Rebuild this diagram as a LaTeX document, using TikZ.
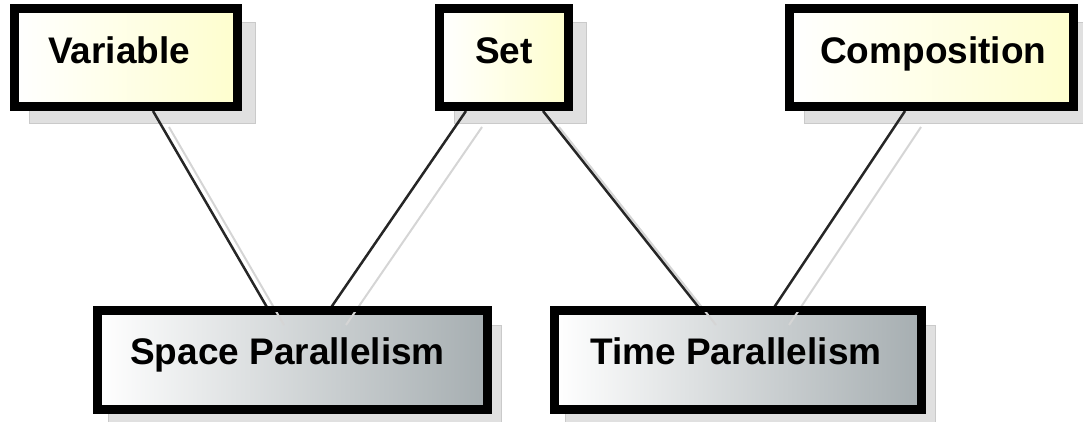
\documentclass[tikz,border=0pt]{standalone}
\usepackage{fontspec}
\setmainfont{Liberation Sans}
\definecolor{boxyellow}{HTML}{FEFECE}
\definecolor{boxgrey}{RGB}{166,174,177}
\definecolor{shadowgrey}{RGB}{224,224,224}
\tikzset{
  shadowbox/.style={fill=shadowgrey, draw=shadowgrey!90!black, line width=1pt},
  topbox/.style={draw=black, line width=6pt, rectangle, minimum height=95pt, inner sep=0pt,
     left color=white, right color=boxyellow},
  botbox/.style={draw=black, line width=6pt, rectangle, minimum height=96pt, inner sep=0pt,
     left color=white, right color=boxgrey},
  lbl/.style={anchor=base west, inner sep=0pt, font=\bfseries\fontsize{37}{40}\selectfont},
  conn/.style={draw=black!85, line width=2.5pt},
  connshadow/.style={draw=shadowgrey!95!black, line width=2pt},
  border/.style={line width=6pt},
}
\begin{document}
\begin{tikzpicture}[x=1pt,y=-1pt]
\useasboundingbox (0,0) rectangle (1083,422);
% coordinates for box placement (shadows drawn first)
\coordinate (cvar) at (126,57.5);
\coordinate (cset) at (504,57.5);
\coordinate (ccomp) at (931.5,57.5);
\coordinate (csp) at (292.5,360);
\coordinate (ctp) at (738,360);
% box shadows
\fill[shadowbox] ([shift={(16,16)}]cvar) +(-113,-50.5) rectangle +(113,50.5);
\fill[shadowbox] ([shift={(16,16)}]cset) +(-66,-50.5) rectangle +(66,50.5);
\fill[shadowbox] ([shift={(16,16)}]ccomp) +(-143.5,-50.5) rectangle +(143.5,50.5);
\fill[shadowbox] ([shift={(12,16)}]csp) +(-196.5,-51) rectangle +(196.5,51);
\fill[shadowbox] ([shift={(12,16)}]ctp) +(-185,-51) rectangle +(185,51);
% nodes
\node[topbox, minimum width=220pt] (var) at (cvar) {};
\node[topbox, minimum width=126pt] (set) at (cset) {};
\node[topbox, minimum width=281pt] (comp) at (ccomp) {};
\node[botbox, minimum width=387pt] (sp) at (csp) {};
\node[botbox, minimum width=364pt] (tp) at (ctp) {};
% connector shadows
\draw[connshadow] ([xshift=43pt,yshift=-19pt]var.south) -- ([xshift=-8.5pt,yshift=-16pt]sp.north);
\draw[connshadow] ([xshift=-22pt,yshift=-19pt]set.south) -- ([xshift=53.5pt,yshift=-16pt]sp.north);
\draw[connshadow] ([xshift=55pt,yshift=-19pt]set.south) -- ([xshift=-22pt,yshift=-16pt]tp.north);
\draw[connshadow] ([xshift=-10.5pt,yshift=-19pt]comp.south) -- ([xshift=51pt,yshift=-16pt]tp.north);
% connectors
\draw[conn] ([xshift=27pt,yshift=-3pt]var.south) -- ([xshift=-24.5pt]sp.north);
\draw[conn] ([xshift=-38pt,yshift=-3pt]set.south) -- ([xshift=37.5pt]sp.north);
\draw[conn] ([xshift=39pt,yshift=-3pt]set.south) -- ([xshift=-38pt]tp.north);
\draw[conn] ([xshift=-26.5pt,yshift=-3pt]comp.south) -- ([xshift=35pt]tp.north);
% redraw borders over connector ends
\draw[border] (var.south west) rectangle (var.north east);
\draw[border] (set.south west) rectangle (set.north east);
\draw[border] (comp.south west) rectangle (comp.north east);
\draw[border] (sp.south west) rectangle (sp.north east);
\draw[border] (tp.south west) rectangle (tp.north east);
% labels
\node[lbl] (lvar) at (48,64) {Variable};
\node[lbl] (lset) at (475,64) {Set};
\node[lbl] (lcomp) at (820,64) {Composition};
\node[lbl] (lsp) at (130,364) {Space Parallelism};
\node[lbl] (ltp) at (590,364) {Time Parallelism};
\end{tikzpicture}
\end{document}
